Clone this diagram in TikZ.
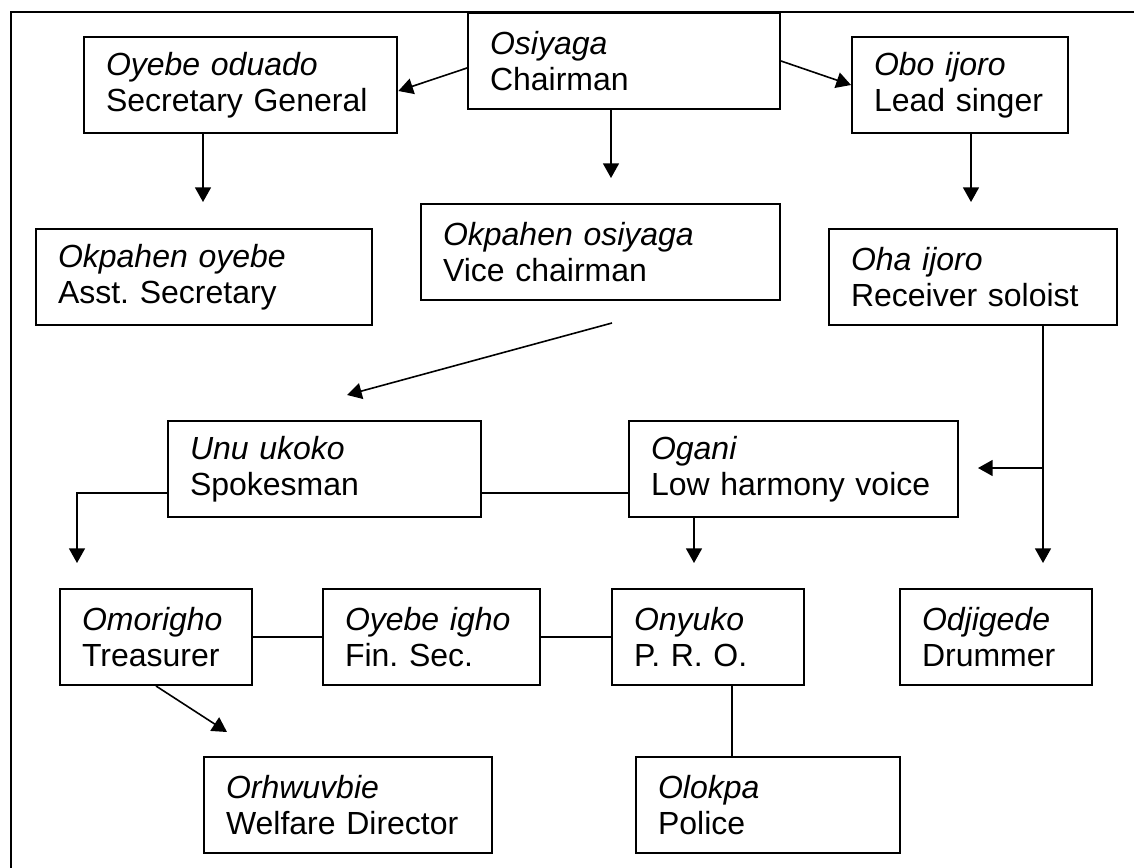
\documentclass[tikz,border=0pt]{standalone}
\usepackage{fontspec}
\setmainfont{Liberation Sans}
\usetikzlibrary{arrows.meta}
\frenchspacing

\tikzset{every picture/.style={line width=1.2pt}}
\tikzset{box/.style={draw, line width=1.5pt, anchor=north west, align=left, inner xsep=16.5pt, inner ysep=0pt, minimum height=72pt, font=\fontsize{24}{27}\selectfont},
  arr/.style={-{Triangle[length=11pt,width=12pt]}}}

\begin{document}
\begin{tikzpicture}[x=0.75pt,y=0.75pt,yscale=-1,xscale=1]
\clip (0,0) rectangle (1134,867);

%Shape: Frame
\draw [line width=1.5pt] (11,880) -- (11,12) -- (1150,12) ;

% Text Node
\node [box, text width=201pt] (chair) at (467,12) {\textit{Osiyaga}\\Chairman};
% Text Node
\node [box, text width=202pt] (secgen) at (83,36) {\textit{Oyebe oduado}\\Secretary General};
% Text Node
\node [box, text width=129pt] (lead) at (851,36) {\textit{Obo ijoro}\\Lead singer};
% Text Node
\node [box, text width=219pt] (asst) at (35,228) {\textit{Okpahen oyebe}\\Asst. Secretary};
% Text Node
\node [box, text width=236pt] (vice) at (420,203) {\textit{Okpahen osiyaga}\\Vice chairman};
% Text Node
\node [box, text width=183pt] (oha) at (828,228) {\textit{Oha ijoro}\\Receiver soloist};
% Text Node
\node [box, text width=202pt] (unu) at (167,420) {\textit{Unu ukoko}\\Spokesman};
% Text Node
\node [box, text width=214pt] (ogani) at (628,420) {\textit{Ogani}\\Low harmony voice};
% Text Node
\node [box, text width=111pt] (omor) at (59,588) {\textit{Omorigho}\\Treasurer};
% Text Node
\node [box, text width=130pt] (fin) at (322,588) {\textit{Oyebe igho}\\Fin. Sec.};
% Text Node
\node [box, text width=111pt] (pro) at (611,588) {\textit{Onyuko}\\P. R. O.};
% Text Node
\node [box, text width=111pt] (drum) at (899,588) {\textit{Odjigede}\\Drummer};
% Text Node
\node [box, text width=183pt] (welf) at (203,756) {\textit{Orhwuvbie}\\Welfare Director};
% Text Node
\node [box, text width=165pt] (police) at (635,756) {\textit{Olokpa}\\Police};

% free arrow ends
\coordinate (t1) at (611,178);
\coordinate (t2) at (203,202);
\coordinate (t3) at (971,202);
\coordinate (s4) at (612,323);
\coordinate (t4) at (347,395);
\coordinate (t5) at (77,563);
\coordinate (t6) at (694,563);
\coordinate (t7) at (1043,563);
\coordinate (j7) at (1043,468);
\coordinate (t8) at (978,468);
\coordinate (t9) at (227,732);

%Straight Lines
\draw [arr] ([yshift=5.25pt]chair.west) -- ([yshift=4.5pt]secgen.east) ;
\draw [arr] (chair.east) -- (lead.west) ;
\draw [arr] (chair.south -| t1) -- (t1) ;
\draw [arr] (secgen.south -| t2) -- (t2) ;
\draw [arr] (lead.south -| t3) -- (t3) ;
\draw [arr] (s4) -- (t4) ;
\draw [arr] ([yshift=18pt]unu.west) -| (t5) ;
\draw ([yshift=18pt]unu.east) -- ([yshift=18pt]ogani.west) ;
\draw [arr] (ogani.south -| t6) -- (t6) ;
\draw [arr] (oha.south -| t7) -- (t7) ;
\draw [arr] (j7) -- (t8) ;
\draw [arr] (omor.south) -- (t9) ;
\draw (omor) -- (fin) ;
\draw (fin) -- (pro) ;
\draw ([xshift=18pt]pro.south) -- ([xshift=18pt]pro.south |- police.north) ;

\end{tikzpicture}
\end{document}
